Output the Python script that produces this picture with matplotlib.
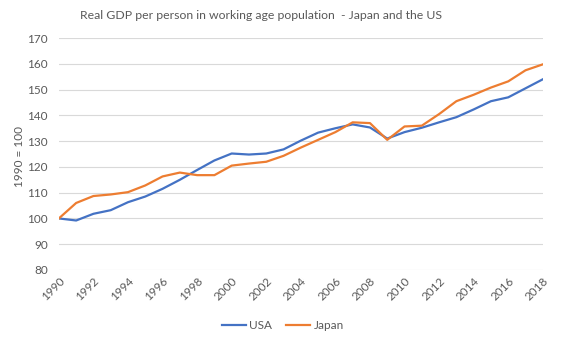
import matplotlib
matplotlib.use("Agg")
import matplotlib.pyplot as plt

years = list(range(1990, 2019))
usa = [100, 99.2, 101.8, 103.2, 106.3, 108.5, 111.5, 115.0, 118.8, 122.5,
       125.2, 124.8, 125.2, 126.8, 130.2, 133.3, 135.0, 136.5, 135.3, 131.0,
       133.5, 135.2, 137.3, 139.3, 142.3, 145.5, 147.0, 150.5, 154.0]
japan = [100, 106.0, 108.7, 109.3, 110.2, 112.8, 116.3, 117.8, 116.8, 116.8,
         120.5, 121.3, 122.0, 124.3, 127.5, 130.5, 133.5, 137.3, 137.0, 130.5,
         135.7, 136.0, 140.5, 145.5, 148.0, 150.8, 153.2, 157.5, 159.8]
xticks = list(range(1990, 2019, 2))
yticks = list(range(80, 171, 10))

plt.rcParams['font.family'] = ['Lato', 'DejaVu Sans']
fig = plt.figure(figsize=(5.66, 3.40), dpi=100)
ax = fig.add_axes([0.104, 0.206, 0.855, 0.682])

ax.plot(years, usa, color='#4472C4', lw=1.6, label='USA')
ax.plot(years, japan, color='#ED7D31', lw=1.6, label='Japan')

ax.set_xlim(1990, 2018)
ax.set_ylim(80, 170)
ax.set_xticks(xticks)
ax.set_xticklabels([str(x) for x in xticks], rotation=45, ha='right', rotation_mode='anchor')
ax.set_yticks(yticks)
ax.grid(axis='y', color='#D9D9D9', lw=0.8)
ax.set_axisbelow(True)
for s in ax.spines.values():
    s.set_visible(False)
ax.tick_params(length=0, colors='#595959', labelsize=8.5)
ax.tick_params(axis='x', pad=4)
ax.tick_params(axis='y', pad=8)
ax.set_ylabel('1990 = 100', color='#595959', fontsize=8.5)
ax.yaxis.set_label_coords(-0.070, 0.49)

fig.text(0.462, 0.955, 'Real GDP per person in working age population  - Japan and the US',
         ha='center', va='center', fontsize=8.8, color='#595959')

fig.legend(loc='center', bbox_to_anchor=(0.5, 0.043), ncol=2, frameon=False,
           fontsize=8.5, handlelength=2.0, columnspacing=1.2, handletextpad=0.3,
           labelcolor='#595959')

fig.savefig('out.png', dpi=100)
